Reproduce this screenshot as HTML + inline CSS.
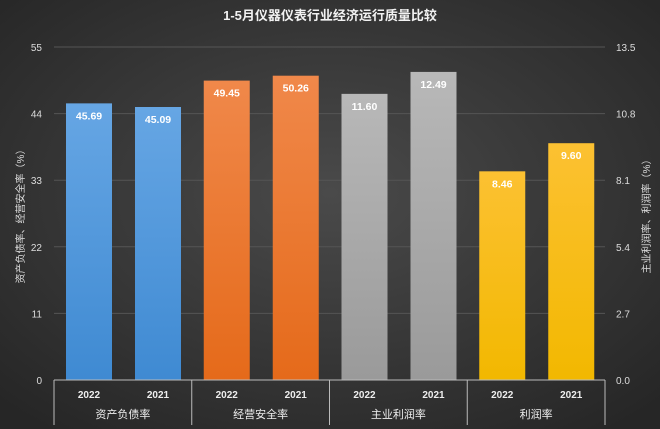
<!DOCTYPE html>
<html><head><meta charset="utf-8"><style>
html,body{margin:0;padding:0;}
body{width:660px;height:429px;overflow:hidden;background:#333;font-family:"Liberation Sans","Noto Sans CJK SC",sans-serif;}
svg{display:block}
</style></head><body>
<svg id="chart" width="660" height="429" xmlns="http://www.w3.org/2000/svg">
<defs>
<radialGradient id="bg" cx="50%" cy="45%" r="70%">
<stop offset="0" stop-color="#4a4a4a"/><stop offset="1" stop-color="#262626"/>
</radialGradient>
<linearGradient id="gBlue" x1="0" y1="0" x2="0" y2="1"><stop offset="0" stop-color="#66a6e4"/><stop offset="1" stop-color="#3f8ad2"/></linearGradient>
<linearGradient id="gOrange" x1="0" y1="0" x2="0" y2="1"><stop offset="0" stop-color="#f0884a"/><stop offset="1" stop-color="#e56a1a"/></linearGradient>
<linearGradient id="gGray" x1="0" y1="0" x2="0" y2="1"><stop offset="0" stop-color="#b8b8b8"/><stop offset="1" stop-color="#9a9a9a"/></linearGradient>
<linearGradient id="gYellow" x1="0" y1="0" x2="0" y2="1"><stop offset="0" stop-color="#fcc132"/><stop offset="1" stop-color="#f2b800"/></linearGradient>
</defs>
<rect x="0" y="0" width="660" height="429" fill="url(#bg)"/>
<text x="330" y="20" fill="#f2f2f2" font-size="13" font-weight="bold" text-anchor="middle">1-5月仪器仪表行业经济运行质量比较</text>
<text transform="translate(24,214) rotate(-90)" fill="#ddd" font-size="10" text-anchor="middle">资产负债率、经营安全率（%）</text>
<text transform="translate(650,214) rotate(-90)" fill="#ddd" font-size="10" text-anchor="middle">主业利润率、利润率（%）</text>
<g id="grid"></g><g id="bars"></g><g id="axes"></g>
</svg>
<script>
const groups=["资产负债率","经营安全率","主业利润率","利润率"];
const years=["2022","2021"];
const values=[[45.69,45.09],[49.45,50.26],[11.60,12.49],[8.46,9.60]];
const labels=[["45.69","45.09"],["49.45","50.26"],["11.60","12.49"],["8.46","9.60"]];
const useRight=[false,false,true,true];
const leftTicks=[0,11,22,33,44,55];
const rightTicks=["0.0","2.7","5.4","8.1","10.8","13.5"];
const fills=["url(#gBlue)","url(#gOrange)","url(#gGray)","url(#gYellow)"];
const NS="http://www.w3.org/2000/svg";
const X0=54,X1=605,Y0=380,YT=47;
const gw=(X1-X0)/groups.length;
const yL=v=>Y0-(v/55)*(Y0-YT);
const yR=v=>Y0-(v/13.5)*(Y0-YT);
function mk(tag,attrs,parent,text){const e=document.createElementNS(NS,tag);for(const k in attrs)e.setAttribute(k,attrs[k]);if(text!==undefined)e.textContent=text;parent.appendChild(e);return e;}
const grid=document.getElementById('grid'),bars=document.getElementById('bars'),axes=document.getElementById('axes');
leftTicks.forEach((t,i)=>{const y=yL(t);
 if(i>0){const l=mk('line',{x1:X0,x2:X1,y1:y,y2:y,stroke:'#555','stroke-width':1},grid);
 
 }
 const a=mk('text',{x:42,y:y+4,fill:'#ddd','font-size':10,'text-anchor':'end'},axes,String(t));
 
 
 const b=mk('text',{x:616,y:y+4,fill:'#ddd','font-size':10},axes,rightTicks[i]);
 
 
});
groups.forEach((g,gi)=>{
 const gx=X0+gi*gw;
 values[gi].forEach((v,bi)=>{
  const bx=gx+12+bi*69, y=useRight[gi]?yR(v):yL(v);
  const r=mk('rect',{x:bx,y:y,width:46,height:Y0-y,fill:fills[gi]},bars);
  
  
  const t=mk('text',{x:bx+23,y:y+16,fill:'#fff','font-size':10.5,'font-weight':'bold','text-anchor':'middle'},bars,labels[gi][bi]);
  
  
  const yt=mk('text',{x:bx+23,y:398,fill:'#eee','font-size':10,'font-weight':'bold','text-anchor':'middle'},axes,years[bi]);
  
  
 });
 const c=mk('text',{x:gx+gw/2,y:418,fill:'#eee','font-size':11,'text-anchor':'middle'},axes,g);
 
 
});
for(let i=0;i<=groups.length;i++){const x=X0+i*gw;
 const l=mk('line',{x1:x,x2:x,y1:Y0,y2:425,stroke:'#bbb','stroke-width':1},axes);
 
 }
const ax=mk('line',{x1:X0,x2:X1,y1:Y0,y2:Y0,stroke:'#bbb','stroke-width':1},axes);


</script>
</body></html>
